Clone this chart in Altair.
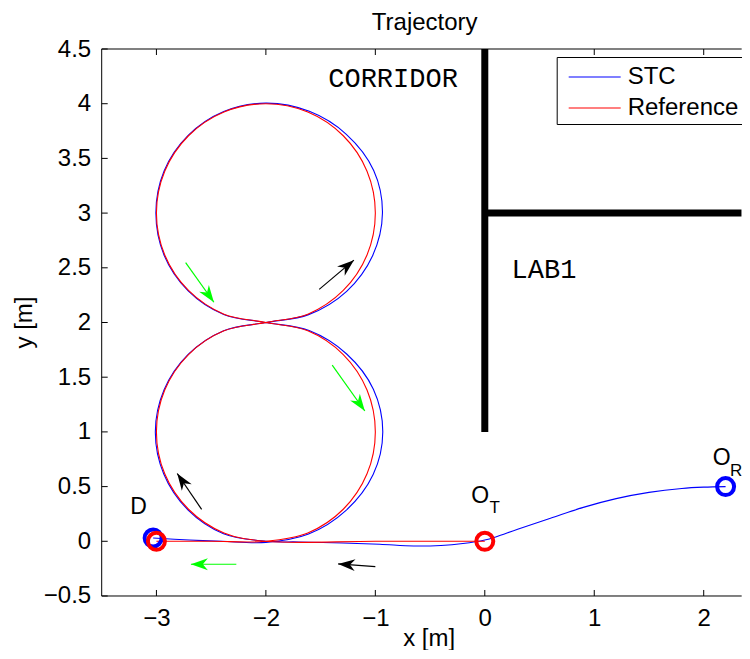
import altair as alt
import pandas as pd
import math

# ---------------- data ----------------
ref_x = [0.0, -1.0, -2.0, -2.383, -2.707, -2.924, -3.0, -2.924, -2.707, -2.383, -2.0,
         -1.617, -1.293, -1.076, -1.0, -1.076, -1.293, -1.617, -2.0, -2.383, -2.707, -2.924,
         -3.0, -2.924, -2.707, -2.383, -2.0,
         -1.617, -1.293, -1.076, -1.0, -1.076, -1.293, -1.617, -2.0, -2.5, -3.0]
ref_y = [0.0, 0.0, 0.0, 0.076, 0.293, 0.617, 1.0, 1.383, 1.707, 1.924, 2.0,
         2.076, 2.293, 2.617, 3.0, 3.383, 3.707, 3.924, 4.0, 3.924, 3.707, 3.383,
         3.0, 2.617, 2.293, 2.076, 2.0,
         1.924, 1.707, 1.383, 1.0, 0.617, 0.293, 0.076, 0.0, 0.0, 0.0]

stc_x = [2.2, 2.0, 1.8, 1.5, 1.2, 0.9, 0.6, 0.3, 0.1, 0.0, -0.2, -0.4, -0.65, -0.96, -1.3, -1.7, -2.0,
         -2.387, -2.713, -2.933, -3.01, -2.93, -2.71, -2.385, -2.0,
         -1.61, -1.262, -1.025, -0.935, -1.015, -1.265, -1.603, -2.0, -2.385, -2.71, -2.93,
         -3.005, -2.93, -2.71, -2.385, -2.0,
         -1.605, -1.262, -1.018, -0.932, -1.02, -1.27, -1.61, -2.0, -2.4, -2.7, -3.03]
stc_y = [0.5, 0.495, 0.483, 0.447, 0.39, 0.31, 0.21, 0.11, 0.04, 0.012, -0.02, -0.038, -0.043, -0.027, -0.015, -0.006, 0.0,
         0.07, 0.288, 0.615, 1.0, 1.385, 1.708, 1.925, 2.0,
         2.072, 2.285, 2.61, 3.0, 3.39, 3.72, 3.93, 4.005, 3.928, 3.71, 3.385,
         3.0, 2.615, 2.29, 2.074, 2.0,
         1.926, 1.712, 1.39, 1.0, 0.61, 0.28, 0.066, -0.01, 0.0, 0.012, 0.03]

series_names = ["STC", "Reference"]
series_colors = ["#0000ff", "#ff0000"]

x_domain = [-3.5, 2.347]
y_domain = [-0.5, 4.5]

# walls (vertical wall x=0 from y=1 up, horizontal wall y=3 from x=0 right)
wall_x1 = [0.0, 0.0]
wall_y1 = [1.0, 3.0]
wall_x2 = [0.0, 2.347]
wall_y2 = [4.5, 3.0]

# direction arrows (tail -> head)
arr_tx = [-1.0, -2.587, -2.27, -1.513, -1.394, -2.733]
arr_ty = [-0.232, 0.292, -0.21, 2.303, 1.611, 2.547]
arr_hx = [-1.34, -2.81, -2.685, -1.196, -1.096, -2.475]
arr_hy = [-0.207, 0.62, -0.21, 2.57, 1.191, 2.185]
arr_col = ["#000000", "#000000", "#00ff00", "#000000", "#00ff00", "#00ff00"]

# circle markers (start / end points)
mk_x = [2.2, -3.03, 0.0, -3.0]
mk_y = [0.5, 0.03, 0.0, 0.0]
mk_col = ["#0000ff", "#0000ff", "#ff0000", "#ff0000"]

# point labels
lab_text = ["D", "O", "T", "O", "R"]
lab_x = [-3.163, -0.043, 0.091, 2.165, 2.296]
lab_y = [0.247, 0.35, 0.256, 0.697, 0.597]
lab_size = [23, 23, 17, 23, 17]

# room labels
room_text = ["CORRIDOR", "LAB1"]
room_x = [-1.43, 0.245]
room_y = [4.155, 2.404]

x_ticks = [-3, -2, -1, 0, 1, 2]
y_ticks = [-0.5, 0, 0.5, 1, 1.5, 2, 2.5, 3, 3.5, 4, 4.5]

title_text = ["Trajectory"]

W, H = 640, 547
FONT = "Liberation Sans"
LBL = "replace(format(datum.value, '~g'), '-', '\u2212')"

# ---------------- frames ----------------
df_ref = pd.DataFrame({"x": ref_x, "y": ref_y, "i": range(len(ref_x)), "series": "Reference"})
df_stc = pd.DataFrame({"x": stc_x, "y": stc_y, "i": range(len(stc_x)), "series": "STC"})
df_wall = pd.DataFrame({"x": wall_x1, "y": wall_y1, "x2": wall_x2, "y2": wall_y2})
ang = [(math.degrees(math.atan2(hx - tx, hy - ty)) + 360) % 360
       for tx, ty, hx, hy in zip(arr_tx, arr_ty, arr_hx, arr_hy)]
df_arr = pd.DataFrame({"tx": arr_tx, "ty": arr_ty, "hx": arr_hx, "hy": arr_hy,
                       "c": arr_col, "ang": ang})
df_mk = pd.DataFrame({"x": mk_x, "y": mk_y, "c": mk_col})
df_lab = pd.DataFrame({"t": lab_text, "x": lab_x, "y": lab_y, "s": lab_size})
df_room = pd.DataFrame({"t": room_text, "x": room_x, "y": room_y})
df_xt = pd.DataFrame({"v": x_ticks})
df_yt = pd.DataFrame({"v": y_ticks})
df_title = pd.DataFrame({"t": title_text})
df_one = pd.DataFrame({"a": [0]})

xs = alt.Scale(domain=x_domain, nice=False, zero=False)
ys = alt.Scale(domain=y_domain, nice=False, zero=False)

color = alt.Color(
    "series:N",
    scale=alt.Scale(domain=series_names, range=series_colors),
    legend=alt.Legend(
        title=None, orient="none", legendX=455, legendY=8,
        symbolType="M-0.533,0L2.933,0", symbolSize=900, symbolStrokeWidth=1.2,
        labelFontSize=24, labelFont=FONT, labelColor="black", labelOffset=35,
        padding=4, rowPadding=3, strokeColor="black", fillColor="white",
    ),
)

walls = alt.Chart(df_wall).mark_rule(color="black", strokeWidth=7, clip=True).encode(
    x=alt.X("x:Q", scale=xs, axis=alt.Axis(
        values=x_ticks, title="x [m]", labelExpr=LBL, labelFontSize=24, labelFont=FONT,
        labelColor="black", labelBaseline="alphabetic", labelPadding=30,
        titleFontSize=24, titleFont=FONT, titleFontWeight="normal", titleColor="black",
        titleX=327, titleY=50, titleBaseline="alphabetic", titleAnchor="start",
        titleAlign="center")),
    y=alt.Y("y:Q", scale=ys, axis=alt.Axis(
        values=y_ticks, title="y [m]", labelExpr=LBL, labelFontSize=24, labelFont=FONT,
        labelColor="black", labelPadding=11, titleFontSize=24, titleFont=FONT,
        titleFontWeight="normal", titleColor="black", titleX=-70, titleY=273,
        titleAngle=270, titleBaseline="alphabetic", titleAlign="center",
        titleAnchor="start")),
    x2="x2:Q", y2="y2:Q",
)

stc_line = alt.Chart(df_stc).mark_line(strokeWidth=1.1, interpolate="catmull-rom", clip=True).encode(
    x=alt.X("x:Q", scale=xs), y=alt.Y("y:Q", scale=ys), order="i:Q", color=color)
ref_line = alt.Chart(df_ref).mark_line(strokeWidth=1.1, interpolate="catmull-rom", clip=True).encode(
    x=alt.X("x:Q", scale=xs), y=alt.Y("y:Q", scale=ys), order="i:Q", color=color)

arr_lines = alt.Chart(df_arr).mark_rule(strokeWidth=1.2).encode(
    x=alt.X("tx:Q", scale=xs), y=alt.Y("ty:Q", scale=ys), x2="hx:Q", y2="hy:Q",
    color=alt.Color("c:N", scale=None))
arr_heads = alt.Chart(df_arr).mark_point(
    shape="M0,0L0.7,2L0,1.4L-0.7,2Z", filled=True, size=289, opacity=1, strokeWidth=0.5
).encode(
    x=alt.X("hx:Q", scale=xs), y=alt.Y("hy:Q", scale=ys),
    angle=alt.Angle("ang:Q", scale=None),
    color=alt.Color("c:N", scale=None))

markers = alt.Chart(df_mk).mark_point(shape="circle", filled=False, size=289, strokeWidth=4, opacity=1).encode(
    x=alt.X("x:Q", scale=xs), y=alt.Y("y:Q", scale=ys), color=alt.Color("c:N", scale=None))

labels = alt.Chart(df_lab).mark_text(font=FONT, color="black", align="center", baseline="alphabetic").encode(
    x=alt.X("x:Q", scale=xs), y=alt.Y("y:Q", scale=ys), text="t:N", size=alt.Size("s:Q", scale=None))

rooms = alt.Chart(df_room).mark_text(font="Liberation Mono", fontSize=27, color="black",
                                     align="left", baseline="alphabetic").encode(
    x=alt.X("x:Q", scale=xs), y=alt.Y("y:Q", scale=ys), text="t:N")

title = alt.Chart(df_title).mark_text(font=FONT, fontSize=24, color="black",
                                      align="center", baseline="alphabetic").encode(
    x=alt.value(323), y=alt.value(-19), text="t:N")

# frame: top / left / bottom lines and inward ticks
top_line = alt.Chart(df_one).mark_rule(color="black", strokeWidth=1).encode(
    x=alt.value(0), x2=alt.value(W), y=alt.value(0))
bottom_line = alt.Chart(df_one).mark_rule(color="black", strokeWidth=1).encode(
    x=alt.value(0), x2=alt.value(W), y=alt.value(H))
left_line = alt.Chart(df_one).mark_rule(color="black", strokeWidth=1).encode(
    x=alt.value(0), y=alt.value(0), y2=alt.value(H))
xt_bottom = alt.Chart(df_xt).mark_rule(color="black", strokeWidth=1).encode(
    x=alt.X("v:Q", scale=xs), y=alt.value(H), y2=alt.value(H - 6))
xt_top = alt.Chart(df_xt).mark_rule(color="black", strokeWidth=1).encode(
    x=alt.X("v:Q", scale=xs), y=alt.value(0), y2=alt.value(6))
yt_left = alt.Chart(df_yt).mark_rule(color="black", strokeWidth=1).encode(
    y=alt.Y("v:Q", scale=ys), x=alt.value(0), x2=alt.value(6))

chart = alt.layer(
    walls, stc_line, ref_line, arr_lines, arr_heads, markers, labels, rooms, title,
    top_line, bottom_line, left_line, xt_bottom, xt_top, yt_left,
).properties(
    width=W, height=H,
    autosize=alt.AutoSizeParams(type="none"),
    padding={"left": 93.7, "top": 41, "right": 0, "bottom": 54},
).configure_axis(
    grid=False, ticks=False, domain=False,
).configure_view(stroke=None)

chart.save("out.html", embed_options={"renderer": "svg", "actions": False})
